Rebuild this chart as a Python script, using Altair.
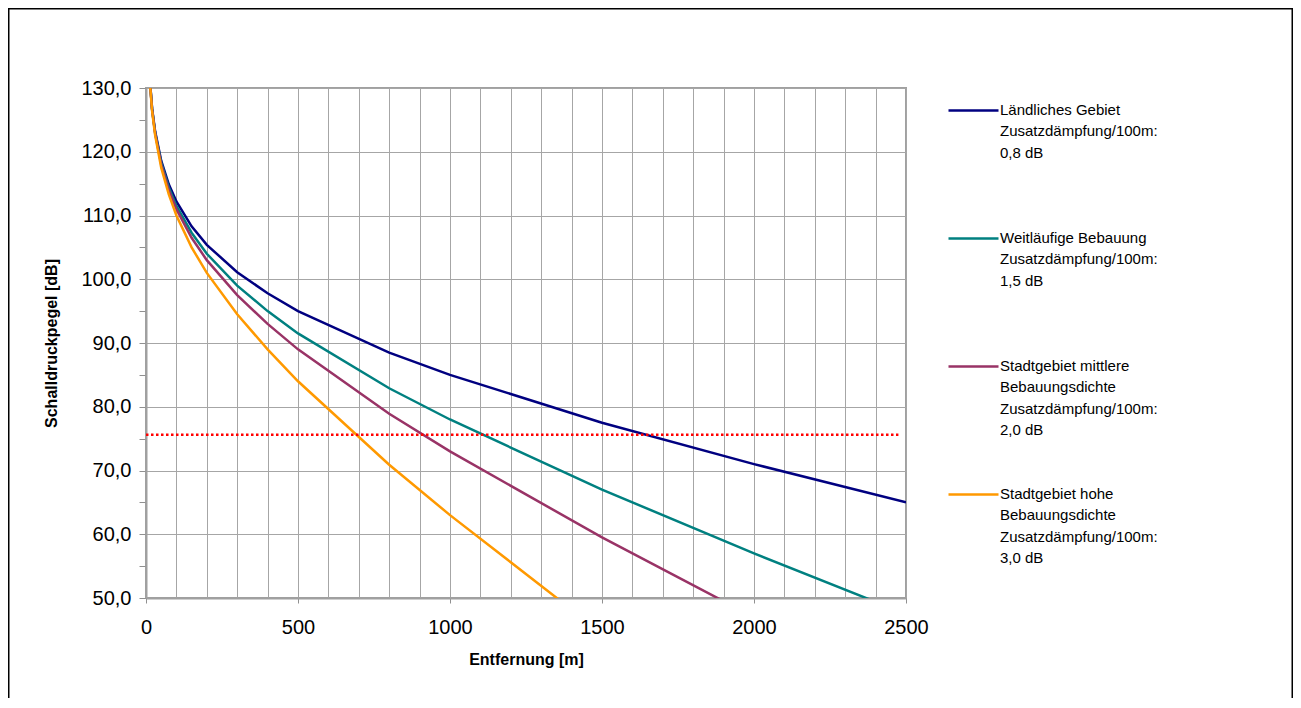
import altair as alt
import pandas as pd

# distances in m
distances = [10, 20, 30, 50, 75, 100, 150, 200, 300, 400, 500, 800, 1000, 1500, 2000, 2500]
# sound pressure levels in dB
laendlich = [132.9, 126.8, 123.2, 118.6, 114.9, 112.2, 108.3, 105.4, 101.1, 97.8, 95.0, 88.5, 85.0, 77.5, 71.0, 65.0]
weitlaeufig = [132.9, 126.7, 123.0, 118.3, 114.4, 111.5, 107.3, 104.0, 99.0, 95.0, 91.5, 82.9, 78.0, 67.0, 57.0, 47.5]
mittel = [132.8, 126.6, 122.9, 118.0, 114.0, 111.0, 106.5, 103.0, 97.5, 93.0, 89.0, 78.9, 73.0, 59.5, 47.0, 35.0]
hoch = [132.7, 126.4, 122.6, 117.5, 113.3, 110.0, 105.0, 101.0, 94.5, 89.0, 84.0, 70.9, 63.0, 44.5, 27.0, 10.0]

series_names = [
    "Ländliches Gebiet|Zusatzdämpfung/100m:|0,8 dB",
    "Weitläufige Bebauung|Zusatzdämpfung/100m:|1,5 dB",
    "Stadtgebiet mittlere|Bebauungsdichte|Zusatzdämpfung/100m:|2,0 dB",
    "Stadtgebiet hohe|Bebauungsdichte|Zusatzdämpfung/100m:|3,0 dB",
]
series_values = [laendlich, weitlaeufig, mittel, hoch]
series_colors = ["#000080", "#008080", "#993366", "#FF9900"]

# horizontal reference line
limit_level = [75.6]
limit_start = [0]
limit_end = [2475]

x_ticks = list(range(0, 2501, 100))
y_ticks = list(range(50, 131, 5))

rows = []
for name, vals in zip(series_names, series_values):
    for d, v in zip(distances, vals):
        rows.append({"Entfernung": d, "Pegel": v, "Serie": name})
df = pd.DataFrame(rows)

limit_df = pd.DataFrame({"Entfernung": limit_start, "Ende": limit_end, "Pegel": limit_level})

FONT = "Liberation Sans"

x_axis = alt.Axis(
    values=x_ticks,
    format="d",
    labelExpr="datum.value % 500 === 0 ? datum.label : ''",
    labelOverlap=False,
    labelFlush=False,
    tickOpacity={"condition": {"test": "datum.value % 500 === 0", "value": 1}, "value": 0},
    tickSize=5,
    labelPadding=14,
    titlePadding=14,
    title="Entfernung [m]",
)
y_axis = alt.Axis(
    values=y_ticks,
    labelExpr="datum.value % 10 === 0 ? replace(format(datum.value, '.1f'), '.', ',') : ''",
    labelOverlap=False,
    labelFlush=False,
    gridOpacity={"condition": {"test": "datum.value % 10 === 0", "value": 1}, "value": 0},
    tickSize=7,
    labelPadding=8,
    titlePadding=21,
    title="Schalldruckpegel [dB]",
)

x_scale = alt.Scale(domain=[0, 2500], nice=False)
y_scale = alt.Scale(domain=[50, 130], nice=False)

# outer frame of the whole chart
border = alt.Chart(pd.DataFrame({"k": [0]})).mark_rect(
    fill="transparent", stroke="#000000", strokeWidth=1.5, clip=False
).encode(
    x=alt.value(-137.25), x2=alt.value(1146.25), y=alt.value(-79.25), y2=alt.value(625)
)

lines = alt.Chart(df).mark_line(clip=True, strokeWidth=2.5).encode(
    x=alt.X("Entfernung:Q", scale=x_scale, axis=x_axis),
    y=alt.Y("Pegel:Q", scale=y_scale, axis=y_axis),
    color=alt.Color(
        "Serie:N",
        scale=alt.Scale(domain=series_names, range=series_colors),
        legend=alt.Legend(
            title=None,
            orient="none",
            legendX=801,
            legendY=-12,
            direction="vertical",
            padding=0,
            symbolType="M-1,0.32L1,0.32",
            symbolSize=2500,
            symbolStrokeWidth=2.5,
            labelFont=FONT,
            labelFontSize=15,
            labelColor="#000000",
            labelBaseline="top",
            labelOffset=0,
            labelLimit=400,
            rowPadding=22,
            labelExpr="split(datum.label + (length(split(datum.label, '|')) < 4 ? '| ' : ''), '|')",
        ),
    ),
)

rule = alt.Chart(limit_df).mark_rule(
    color="#ff0000", strokeWidth=2.5, strokeDash=[2.5, 2.5]
).encode(
    x=alt.X("Entfernung:Q", scale=x_scale, axis=x_axis),
    x2="Ende:Q",
    y=alt.Y("Pegel:Q", scale=y_scale, axis=y_axis),
)

chart = alt.layer(lines, rule, border).properties(
    width=760,
    height=510,
    autosize=alt.AutoSizeParams(type="none"),
    padding={"left": 138, "top": 80, "right": 387, "bottom": 100},
).configure(
    style={"guide-label": {"lineHeight": 21.5}}
).configure_view(
    stroke="#a0a0a0", strokeWidth=2
).configure_axis(
    labelFont=FONT,
    labelFontSize=20,
    labelColor="#000000",
    titleFont=FONT,
    titleFontSize=16,
    titleFontWeight="bold",
    titleColor="#000000",
    gridColor="#a6a6a6",
    gridWidth=1,
    domainColor="#a0a0a0",
    domainWidth=2,
    tickColor="#909090",
    tickWidth=1,
)

chart.save("out.html", embed_options={"renderer": "svg", "actions": False})
